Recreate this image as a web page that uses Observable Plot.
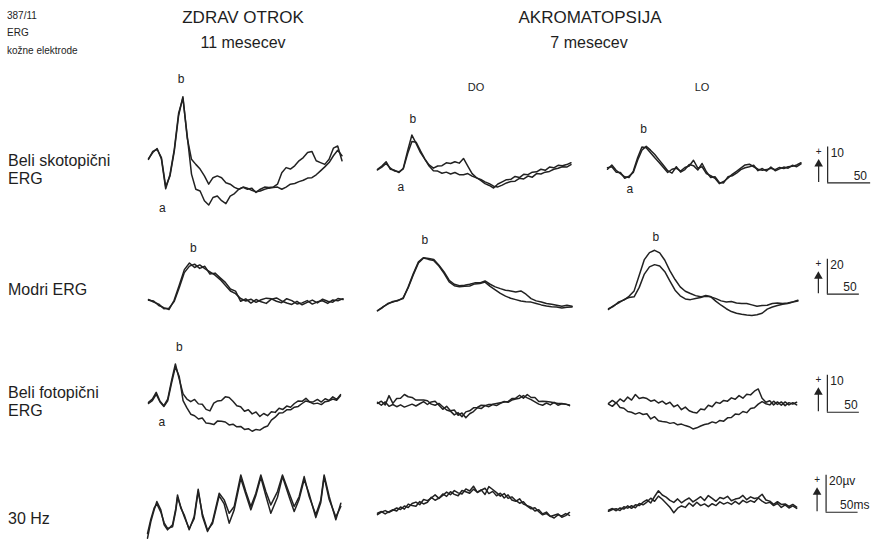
<!DOCTYPE html>
<html>
<head>
<meta charset="utf-8">
<script src="https://cdn.jsdelivr.net/npm/d3@7"></script>
<script src="https://cdn.jsdelivr.net/npm/@observablehq/plot@0.6"></script>
<style>
  body { margin: 0; background: #fff; }
  #fig { position: relative; width: 883px; height: 540px; overflow: hidden; background: #fff;
         font-family: "Liberation Sans", Arial, Helvetica, sans-serif; color: #1e1e1e; }
  .lbl { position: absolute; white-space: nowrap; line-height: 1; }
  #fig svg { position: absolute; overflow: visible; }
</style>
</head>
<body>
<div id="fig"></div>
<script>
// ERG responses, amplitude in µV. Two superimposed recordings (A, B) per condition.
// Rows: white scotopic, blue, white photopic, 30 Hz flicker.
// Columns: healthy child (11 months), achromatopsia DO, achromatopsia LO (7 months).

// --- Beli skotopični ERG (5 ms sampling) ---
const scotChildA = [-0.4, 1.8, 2.4, 0.1, -8.0, -5.0, 1.9, 11.7, 17.0, 5.6, -0.4, -1.8, -3.1, -5.0, -7.3, -5.5, -5.0, -5.5, -6.9, -7.3, -8.2, -8.7, -8.2, -8.7, -8.4, -9.6, -8.7, -8.1, -8.2, -8.1, -7.3, -4.1, -2.7, -3.1, -2.2, -0.8, 0.1, 1.5, 1.8, -0.8, -1.3, -1.8, -0.4, 2.7, 3.3, -0.8];
const scotChildB = [-0.2, 1.5, 2.6, -0.3, -8.6, -4.6, 2.4, 12.4, 16.6, 6.2, -4.5, -8.7, -9.2, -11.9, -13.1, -11.0, -10.6, -11.9, -12.7, -10.6, -9.9, -8.7, -8.1, -8.4, -9.0, -9.4, -9.2, -8.7, -8.4, -8.2, -8.1, -8.7, -8.1, -7.3, -7.1, -6.6, -6.2, -5.6, -5.5, -4.7, -3.6, -2.5, -1.3, 0.6, 2.1, 0.6];
const scotDOA = [-0.1, 0.8, 2.0, -0.1, -0.4, -1.0, 0.2, 5.0, 9.4, 7.0, 4.5, 2.7, 1.1, 0.2, 0.8, 0.9, 1.7, 1.5, 2.0, 1.6, 2.9, 0.8, -1.3, -2.4, -3.2, -4.1, -4.6, -5.3, -4.2, -3.6, -3.0, -2.9, -2.1, -2.4, -1.5, -1.6, -0.9, -0.8, -0.1, -0.4, 0.5, 0.3, 1.0, 0.9, 1.2, 1.7];
const scotDOB = [-0.3, 0.5, 1.5, 0.2, -0.6, -0.8, 0.0, 4.2, 7.6, 7.4, 5.0, 2.8, 0.8, -0.5, -0.6, -1.2, -0.9, -1.4, -1.0, -1.6, -1.6, -1.3, -2.0, -2.5, -2.9, -3.6, -4.1, -4.8, -5.0, -4.5, -3.9, -3.5, -3.4, -2.6, -2.8, -2.0, -2.3, -1.3, -1.4, -0.9, -0.7, -0.1, 0.2, 0.6, 0.5, 1.2];
const scotLOA = [-0.1, 1.1, -0.4, -1.3, -2.2, -2.4, -0.6, 3.1, 6.1, 5.9, 4.5, 3.1, 1.8, 0.4, -1.0, -0.1, 0.2, -0.6, 0.4, 0.8, 2.4, 0.2, 0.6, -1.3, -1.9, -2.6, -4.1, -3.5, -2.6, -1.5, -0.7, 0.2, 1.1, 1.3, 0.6, -0.1, -0.4, -0.2, 0.2, -0.2, 0.4, 0.1, 0.6, 0.7, 1.1, 1.7];
const scotLOB = [0.3, 0.6, -0.9, -1.0, -2.6, -2.0, -1.0, 2.4, 5.2, 6.3, 5.2, 4.0, 2.5, 1.0, -0.5, -1.2, 0.6, -0.9, -0.2, 1.2, 0.9, -0.3, 1.5, -0.8, -2.4, -2.2, -3.8, -3.9, -2.2, -1.9, -1.2, -0.2, 0.3, 0.6, 1.0, -0.5, 0.1, -0.6, 0.5, -0.5, 0.0, 0.5, 0.2, 1.0, 0.6, 1.4];

// --- Modri ERG (8 ms sampling) ---
const blueChildA = [0, -0.4, -3.0, -4.2, -5.3, 0, 8.6, 17.5, 21.3, 18.7, 20.2, 18.1, 16.2, 14.3, 11.8, 8.6, 5.3, 3.8, 1.0, -0.4, 0.6, -1.2, 0.3, 1.2, 0.8, -0.6, -1.4, 0.9, -0.2, -2.1, -1.5, -0.2, -2.2, -0.9, -0.3, -1.8, 0.2, -0.3, 0.9];
const blueChildB = [0.4, -1.0, -2.2, -4.8, -4.6, -0.8, 7.2, 15.8, 19.5, 20.6, 18.2, 19.4, 15.0, 15.5, 12.8, 10.2, 6.4, 5.2, -0.6, 0.8, -1.6, 0.4, -0.9, -1.8, 0.6, 1.3, -0.4, -1.6, -2.4, -0.6, -2.6, -1.2, 0.1, -1.5, 0.6, -0.6, -1.1, 1.0, 0.4];
const blueDOA = [-3.2, -1.3, 1.0, 1.9, 2.9, 3.8, 10.5, 18.1, 24.8, 27.2, 26.7, 26.1, 22.9, 19.0, 14.3, 12.0, 11.2, 11.4, 12.0, 12.8, 12.8, 13.9, 12.0, 10.5, 9.5, 8.6, 8.2, 7.6, 8.2, 6.3, 3.8, 2.5, 1.9, 1.0, 0.6, 0, -0.6, 0, -0.6];
const blueDOB = [-3.0, -1.0, 0.6, 2.2, 2.6, 4.2, 10.0, 17.5, 24.2, 27.0, 26.2, 25.5, 22.4, 18.2, 13.4, 11.2, 10.6, 10.8, 11.0, 12.2, 12.4, 13.2, 10.8, 8.8, 6.8, 5.2, 4.0, 3.2, 2.4, 2.0, 1.8, 1.0, 0.2, -0.4, -0.8, -1.0, -1.6, -1.2, -1.0];
const blueLOA = [-1.9, -0.6, 1.9, 2.9, 5.1, 8.2, 17.1, 26.1, 30.1, 31.4, 29.9, 25.7, 19.6, 14.7, 10.5, 8.0, 6.7, 5.5, 4.8, 5.1, 4.8, 3.8, 2.5, 1.9, 2.1, 1.3, 1.0, 1.0, 0.2, -0.6, -0.2, 0, 1.0, 1.3, 1.0, 1.3, 1.9, 2.9];
const blueLOB = [-2.4, -0.2, 1.4, 3.2, 4.4, 4.8, 10.2, 17.8, 21.9, 23.2, 22.4, 19.2, 13.8, 8.6, 5.4, 3.6, 3.2, 3.8, 4.4, 5.6, 4.8, 2.2, 0.0, -2.0, -3.6, -4.6, -5.2, -5.6, -5.8, -5.4, -4.6, -2.2, -1.0, -0.2, 0.6, 1.0, 1.8, 2.4];

// --- Beli fotopični ERG (6 ms sampling) ---
const photChildA = [0, 0.9, 2.7, 0.3, -0.9, 0.9, 5.9, 10.4, 6.3, 2.3, 0.9, 0.2, 0.8, -0.4, -0.5, -1.9, -2.3, -0.2, 0.4, 0.5, 1.5, 1.3, 0.3, -0.9, -1.2, -2.4, -2.0, -3.1, -2.6, -3.8, -3.0, -3.6, -2.5, -2.7, -1.6, -1.9, -1.0, -1.3, -0.3, 0.4, 0.3, 1.1, 0.1, 0.2, 0.8, 0.1, 1.0, 0.5, 1.5, 0.8, 2.1];
const photChildB = [-0.3, 0.5, 2.2, 0.1, -1.1, 0.4, 5.2, 9.6, 7.0, 0.5, -1.5, -3.2, -3.6, -4.5, -4.2, -5.6, -5.7, -6.0, -5.0, -5.1, -5.3, -6.1, -5.9, -6.6, -6.5, -7.3, -7.1, -7.8, -7.3, -7.5, -6.8, -6.4, -4.8, -4.0, -2.9, -2.8, -2.0, -2.0, -1.3, -1.1, -0.3, 0.4, 0.1, -0.4, -0.2, -0.6, 0.2, 0.4, 0.9, 0.6, 1.8];
const photDOA = [0, 0.6, -0.4, 2.1, 0.0, 1.3, 1.4, 2.4, 1.8, 1.6, 0.9, 0.9, 0.9, 0.7, -0.2, -0.5, 0.0, -0.9, -1.8, -2.1, -3.1, -2.5, -3.6, -2.3, -2.0, -1.2, -1.1, -0.5, -0.6, -0.3, -0.2, 0.0, 0.2, 0.4, 0.5, 1.3, 1.4, 2.2, 1.4, 2.4, 1.6, 1.6, 0.5, 0.6, 0.5, 0.4, 0.2, 0.0, 0.0, -0.2, -0.4];
const photDOB = [0.3, -0.5, 0.4, -0.8, -0.3, -0.9, -0.4, -1.0, -0.6, -0.2, -0.7, -0.1, 0.5, -0.3, 0.4, 0.6, -0.5, -1.6, -0.8, -2.0, -1.8, -3.2, -2.6, -3.9, -2.8, -2.2, -1.2, -1.4, -0.6, -0.9, -0.3, -0.6, 0.0, 0.5, 0.3, 0.9, 1.2, 1.4, 2.1, 1.5, 1.0, 0.4, -0.2, -0.5, 0.1, -0.4, 0.3, -0.5, -0.1, -0.2, -0.6];
const photLOA = [0, 0.8, 0.1, 1.2, 0.5, 1.7, 0.9, 2.4, 1.3, 1.6, 1.3, 0.6, 0.9, 0.1, 0.6, -0.2, 0.3, -0.9, -0.4, -1.7, -1.0, -2.0, -2.4, -2.6, -1.5, -1.7, -0.5, -0.9, 0.3, 0.0, 0.8, 0.6, 1.5, 1.1, 2.1, 1.4, 2.5, 2.3, 3.3, 3.9, 1.4, 0.3, 0.7, -0.4, 0.4, -0.5, 0.4, -0.4, 0.2, -0.4];
const photLOB = [-0.2, -0.8, 0.2, -1.1, -1.3, -2.2, -2.4, -2.9, -2.5, -3.0, -2.8, -4.2, -3.6, -4.7, -4.9, -5.0, -5.4, -5.2, -5.8, -5.6, -6.0, -6.3, -6.9, -6.6, -6.1, -5.7, -5.5, -5.0, -5.3, -4.6, -4.8, -3.9, -3.8, -2.9, -3.0, -2.2, -2.5, -1.4, -1.2, -0.2, 0.5, -0.1, -0.4, 0.6, -0.3, 0.4, -0.6, 0.2, -0.2, 0.3];

// --- 30 Hz flicker ---
// healthy child: sample times (ms) of the flicker response
const flickChildT = [0, 5.2, 10.4, 14.6, 20.8, 26.0, 31.3, 39.1, 44.3, 46.9, 52.1, 57.3, 65.1, 72.9, 79.2, 85.9, 93.8, 101.6, 112.0, 119.8, 127.6, 135.4, 145.8, 153.6, 161.5, 169.3, 177.1, 184.9, 192.7, 203.1, 210.9, 221.4, 229.2, 237.0, 244.8, 252.6, 263.0, 270.8, 276.0, 283.9, 294.3, 302.1];
const flickChildA = [-13.5, -4.5, 1.8, 6.3, 1.8, -6.3, -9.0, -6.3, 2.7, 9.9, 2.7, -0.9, -9.0, -1.8, 13.0, -1.8, -9.9, -4.5, 10.8, 7.2, 0, 3.6, 20.7, 11.7, 3.6, 10.8, 20.7, 11.7, 4.5, 11.7, 20.7, 10.8, 3.6, 9.0, 19.8, 9.0, -0.9, 7.2, 20.7, 9.0, -3.6, 5.4];
const flickChildB = [-11.0, -3.2, 2.8, 5.0, 0.6, -5.2, -8.2, -7.4, 1.6, 8.6, 3.4, -1.8, -8.4, -3.0, 11.8, -0.6, -9.2, -5.6, 9.4, 5.0, -5.4, 1.8, 18.8, 10.2, 1.8, 9.6, 19.4, 9.4, 0, 8.6, 19.8, 8.8, 0.9, 7.6, 18.2, 10.4, -2.4, 5.8, 19.6, 7.4, -2.0, 3.6];
// achromatopsia (6 ms sampling)
const flickDOA = [0, 0.9, -0.4, 0.8, 1.9, 1.2, 3.4, 2.2, 4.9, 4.1, 3.8, 6.3, 5.0, 5.9, 8.6, 7.0, 8.1, 10.4, 9.1, 11.6, 10.2, 9.4, 12.3, 11.6, 10.8, 13.0, 11.4, 12.6, 10.1, 14.4, 12.8, 11.1, 9.2, 10.6, 8.0, 8.8, 6.9, 5.4, 6.2, 3.8, 2.4, 2.9, 0.8, -0.9, -0.2, -1.8, -1.1, -0.4, -2.2, -1.3, 0.4];
const flickDOB = [-0.8, 0.6, 1.4, 0.4, 1.6, 2.8, 2.0, 3.9, 3.1, 5.2, 6.0, 4.6, 7.4, 6.8, 8.2, 9.9, 8.0, 9.6, 11.4, 10.0, 12.2, 11.0, 10.4, 13.1, 12.0, 14.6, 11.2, 12.4, 13.5, 10.6, 11.8, 9.4, 10.8, 8.2, 9.9, 7.1, 6.4, 7.8, 4.9, 4.1, 3.2, 1.2, 1.9, -0.4, 0.6, -1.6, -2.6, -0.9, -1.5, -0.2, -1.2];
const flickLOA = [0, 0.9, -0.3, 1.2, 0.6, 2.4, 1.0, 2.9, 2.5, 4.3, 5.6, 3.9, 7.4, 10.5, 8.2, 7.1, 5.3, 4.2, 6.1, 4.0, 5.4, 6.6, 4.5, 5.9, 7.3, 5.2, 7.9, 6.4, 4.8, 6.9, 6.2, 7.5, 5.1, 6.0, 6.4, 8.0, 5.7, 7.2, 6.3, 6.8, 8.6, 5.5, 4.9, 3.2, 4.6, 3.1, 3.4, 2.0, 3.1, 1.7];
const flickLOB = [-0.6, 0.4, 0.8, -0.2, 1.9, 1.1, 2.4, 1.3, 3.6, 2.9, 4.4, 6.5, 4.8, 7.6, 5.9, 3.8, 1.6, -1.4, 1.1, 2.3, 1.5, 3.9, 2.2, 4.3, 2.5, 3.4, 1.9, 3.5, 2.5, 4.5, 3.3, 4.2, 3.1, 4.8, 3.3, 5.3, 4.1, 5.2, 4.3, 6.6, 4.9, 3.7, 4.3, 2.5, 3.7, 1.5, 2.9, 1.2, 2.3, 1.0];

// Text
const idLines = ["387/11", "ERG", "kožne elektrode"];
const groupTitles = ["ZDRAV OTROK", "AKROMATOPSIJA"];
const groupAges = ["11 mesecev", "7 mesecev"];
const eyeLabels = ["DO", "LO"];
const rowLabels = [["Beli skotopični", "ERG"], ["Modri ERG"], ["Beli fotopični", "ERG"], ["30 Hz"]];

// Per-row scales, panel origins (page px of t = 0 ms, 0 µV) and calibration bars
const INK = "#222";
const FONT = "'Liberation Sans', Arial, Helvetica, sans-serif";
const rowsLayout = [
  { pxPerMs: 0.86, pxPerUV: 3.6,  yDomain: [-16, 24], origins: [[148, 157], [377, 168], [607, 168]],
    bar: { t: 256, v0: -3.9, uv: 10, ms: 50, uvText: "10", msText: "50", msDx: 26 } },
  { pxPerMs: 0.64, pxPerUV: 1.75, yDomain: [-8, 41],  origins: [[148, 300], [377, 305], [608, 305]],
    bar: { t: 342, v0: 6.3, uv: 20, ms: 50, uvText: "20", msText: "50", msDx: 16 } },
  { pxPerMs: 0.64, pxPerUV: 3.7,  yDomain: [-9, 17],  origins: [[148, 402], [377, 403], [608, 403]],
    bar: { t: 342, v0: -2.4, uv: 10, ms: 50, uvText: "10", msText: "50", msDx: 17 } },
  { pxPerMs: 0.64, pxPerUV: 1.85, yDomain: [-15, 22], origins: [[147, 513], [377, 513], [608, 510]],
    bar: { t: 340, v0: -1.1, uv: 20, ms: 50, uvText: "20µv", msText: "50ms", msDx: 14 } }
];

// Panels: traces + wave annotations (a-wave / b-wave)
const panels = [
  { row: 0, col: 0, dt: 5, a: scotChildA, b: scotChildB, notes: [{ t: 38, v: 22, s: "b" }, { t: 16, v: -14, s: "a" }] },
  { row: 0, col: 1, dt: 5, a: scotDOA, b: scotDOB, notes: [{ t: 41, v: 13.8, s: "b" }, { t: 27, v: -5.2, s: "a" }] },
  { row: 0, col: 2, dt: 5, a: scotLOA, b: scotLOB, notes: [{ t: 42, v: 11, s: "b" }, { t: 26, v: -5.6, s: "a" }] },
  { row: 1, col: 0, dt: 8, a: blueChildA, b: blueChildB, notes: [{ t: 70, v: 29.5, s: "b" }] },
  { row: 1, col: 1, dt: 8, a: blueDOA, b: blueDOB, notes: [{ t: 74, v: 37, s: "b" }] },
  { row: 1, col: 2, dt: 8, a: blueLOA, b: blueLOB, notes: [{ t: 74, v: 39, s: "b" }] },
  { row: 2, col: 0, dt: 6, a: photChildA, b: photChildB, notes: [{ t: 48, v: 15, s: "b" }, { t: 21, v: -5.3, s: "a" }] },
  { row: 2, col: 1, dt: 6, a: photDOA, b: photDOB, notes: [] },
  { row: 2, col: 2, dt: 6, a: photLOA, b: photLOB, notes: [] },
  { row: 3, col: 0, times: flickChildT, a: flickChildA, b: flickChildB, notes: [] },
  { row: 3, col: 1, dt: 6, a: flickDOA, b: flickDOB, notes: [] },
  { row: 3, col: 2, dt: 6, a: flickLOA, b: flickLOB, notes: [] }
];

const fig = document.getElementById("fig");

function label(text, x, baseline, size, anchor = "start") {
  const d = document.createElement("div");
  d.className = "lbl";
  d.textContent = text;
  d.style.fontSize = size + "px";
  d.style.top = (baseline - 0.83 * size) + "px";
  d.style.left = x + "px";
  if (anchor === "middle") d.style.transform = "translateX(-50%)";
  fig.appendChild(d);
}

function toSeries(p, values) {
  return values.map((v, i) => ({ t: p.times ? p.times[i] : i * p.dt, v }));
}

function scaleBar(L) {
  const b = L.bar, pu = L.pxPerUV, pm = L.pxPerMs;
  const top = b.v0 + b.uv;
  const ax = b.t - 9 / pm;
  return [
    Plot.ruleX([{ x: b.t, y1: b.v0, y2: top }], { x: "x", y1: "y1", y2: "y2", stroke: INK, strokeWidth: 1.2 }),
    Plot.ruleY([{ y: b.v0, x1: b.t, x2: b.t + b.ms }], { y: "y", x1: "x1", x2: "x2", stroke: INK, strokeWidth: 1.2 }),
    Plot.ruleX([{ x: ax, y1: b.v0 + 0.5 / pu, y2: top - 18 / pu }], { x: "x", y1: "y1", y2: "y2", stroke: INK, strokeWidth: 1.2 }),
    Plot.dot([{ x: ax, y: top - 17 / pu }], { x: "x", y: "y", symbol: "triangle", r: 3.2, fill: INK }),
    Plot.text([{ x: ax, y: top - 5 / pu, s: "+" }], { x: "x", y: "y", text: "s", fontSize: 10, fill: INK }),
    Plot.text([{ x: b.t + 3 / pm, y: top - 6 / pu, s: b.uvText }], { x: "x", y: "y", text: "s", textAnchor: "start", fontSize: 12, fill: INK }),
    Plot.text([{ x: b.t + b.msDx / pm, y: b.v0 + 7 / pu, s: b.msText }], { x: "x", y: "y", text: "s", textAnchor: "start", fontSize: 12, fill: INK })
  ];
}

function drawPanel(p) {
  const L = rowsLayout[p.row];
  const [ox, oy] = L.origins[p.col];
  const last = p.col === 2;
  const tmax = last ? L.bar.t + 62 / L.pxPerMs : 200 / L.pxPerMs;
  const m = 4;
  const w = tmax * L.pxPerMs;
  const h = (L.yDomain[1] - L.yDomain[0]) * L.pxPerUV;
  const marks = [
    Plot.line(toSeries(p, p.a), { x: "t", y: "v", stroke: INK, strokeWidth: 1.5, strokeLinejoin: "round" }),
    Plot.line(toSeries(p, p.b), { x: "t", y: "v", stroke: INK, strokeWidth: 1.5, strokeLinejoin: "round" }),
    Plot.text(p.notes, { x: "t", y: "v", text: "s", fontSize: 12, fill: INK })
  ];
  if (last) marks.push(...scaleBar(L));
  const chart = Plot.plot({
    width: w + 2 * m, height: h + 2 * m,
    marginLeft: m, marginRight: m, marginTop: m, marginBottom: m,
    x: { domain: [0, tmax], axis: null },
    y: { domain: L.yDomain, axis: null },
    style: { background: "transparent", fontFamily: FONT, overflow: "visible" },
    marks
  });
  chart.style.left = (ox - m) + "px";
  chart.style.top = (oy - L.yDomain[1] * L.pxPerUV - m) + "px";
  fig.appendChild(chart);
}

panels.forEach(drawPanel);

// Headings and labels
label(idLines[0], 7, 19, 10);
label(idLines[1], 7, 36, 10);
label(idLines[2], 7, 54, 10);
label(groupTitles[0], 243, 23, 17, "middle");
label(groupAges[0], 243, 48, 16, "middle");
label(groupTitles[1], 590, 23, 17, "middle");
label(groupAges[1], 589, 48, 16, "middle");
label(eyeLabels[0], 476, 91, 11, "middle");
label(eyeLabels[1], 702, 91, 11, "middle");
label(rowLabels[0][0], 8, 166, 16);
label(rowLabels[0][1], 8, 184, 16);
label(rowLabels[1][0], 8, 295, 16);
label(rowLabels[2][0], 8, 398, 16);
label(rowLabels[2][1], 8, 416, 16);
label(rowLabels[3][0], 8, 524, 16);
</script>
</body>
</html>
